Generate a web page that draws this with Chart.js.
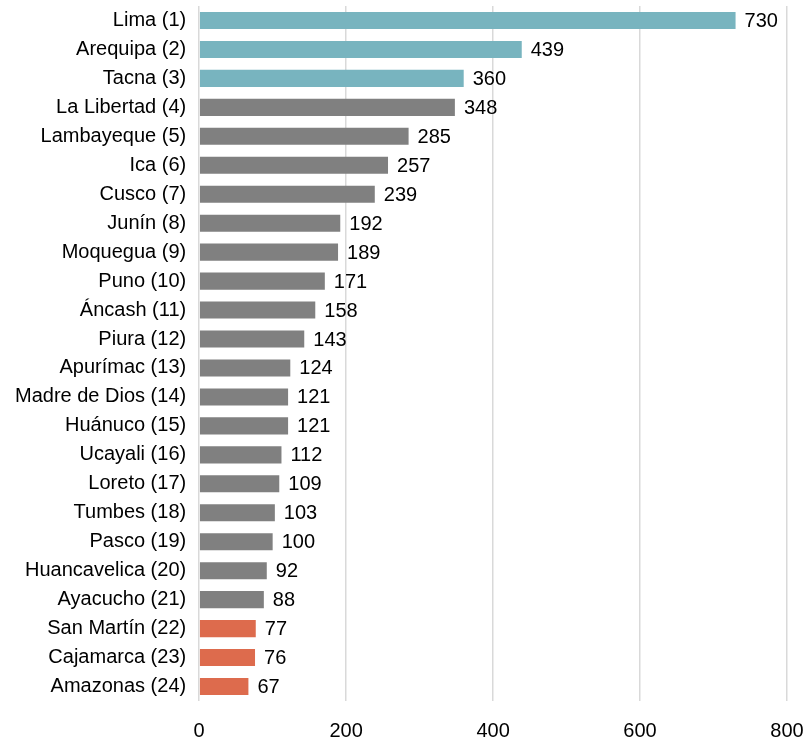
<!DOCTYPE html>
<html>
<head>
<meta charset="utf-8">
<script src="https://cdn.jsdelivr.net/npm/chart.js@4/dist/chart.umd.min.js"></script>
<style>
  html, body { margin: 0; padding: 0; background: #fff; overflow: hidden; }
  canvas { display: block; }
</style>
</head>
<body>
<canvas id="chart" width="812" height="749"></canvas>
<script>
const regions = [
  "Lima (1)", "Arequipa (2)", "Tacna (3)", "La Libertad (4)", "Lambayeque (5)",
  "Ica (6)", "Cusco (7)", "Junín (8)", "Moquegua (9)", "Puno (10)",
  "Áncash (11)", "Piura (12)", "Apurímac (13)", "Madre de Dios (14)", "Huánuco (15)",
  "Ucayali (16)", "Loreto (17)", "Tumbes (18)", "Pasco (19)", "Huancavelica (20)",
  "Ayacucho (21)", "San Martín (22)", "Cajamarca (23)", "Amazonas (24)"
];
const values = [730, 439, 360, 348, 285, 257, 239, 192, 189, 171, 158, 143, 124, 121, 121, 112, 109, 103, 100, 92, 88, 77, 76, 67];
// group per bar: top 3, middle, bottom 3
const groups = ["top", "top", "top", "mid", "mid", "mid", "mid", "mid", "mid", "mid", "mid", "mid",
  "mid", "mid", "mid", "mid", "mid", "mid", "mid", "mid", "mid", "low", "low", "low"];
const xTicks = [0, 200, 400, 600, 800];

const groupColors = { top: "#78b4bf", mid: "#808080", low: "#dd6b4d" };
const font = "Liberation Sans, Arial, sans-serif";
const fontSize = 20;

// draws the value next to each bar end
const valueLabels = {
  id: "valueLabels",
  afterDatasetsDraw(chart) {
    const ctx = chart.ctx;
    const meta = chart.getDatasetMeta(0);
    ctx.save();
    ctx.font = fontSize + "px " + font;
    ctx.fillStyle = "#000";
    ctx.textAlign = "left";
    ctx.textBaseline = "middle";
    meta.data.forEach((bar, i) => {
      ctx.fillText(String(values[i]), bar.x + 9, bar.y + 1);
    });
    ctx.restore();
  }
};

new Chart(document.getElementById("chart"), {
  type: "bar",
  data: {
    labels: regions,
    datasets: [{
      data: values,
      backgroundColor: groups.map(g => groupColors[g]),
      borderWidth: 0,
      barPercentage: 0.59,
      categoryPercentage: 1.0
    }]
  },
  options: {
    indexAxis: "y",
    responsive: false,
    animation: false,
    layout: { padding: { top: 6, right: 25, bottom: 6, left: 2 } },
    plugins: {
      legend: { display: false },
      tooltip: { enabled: false }
    },
    scales: {
      x: {
        min: xTicks[0],
        max: xTicks[xTicks.length - 1],
        afterBuildTicks(axis) { axis.ticks = xTicks.map(v => ({ value: v })); },
        grid: { color: "#d9d9d9", lineWidth: 1.5, drawTicks: false },
        border: { display: false },
        ticks: { color: "#000", font: { family: font, size: fontSize }, padding: 18 },
        afterFit(scale) { scale.height = 42; scale.paddingLeft = 0; scale.paddingRight = 0; }
      },
      y: {
        grid: { display: false, drawTicks: false },
        border: { display: false },
        ticks: { color: "#000", font: { family: font, size: fontSize }, padding: 13, autoSkip: false },
        afterFit(scale) { scale.paddingTop = 0; scale.paddingBottom = 0; }
      }
    }
  },
  plugins: [valueLabels]
});
</script>
</body>
</html>
